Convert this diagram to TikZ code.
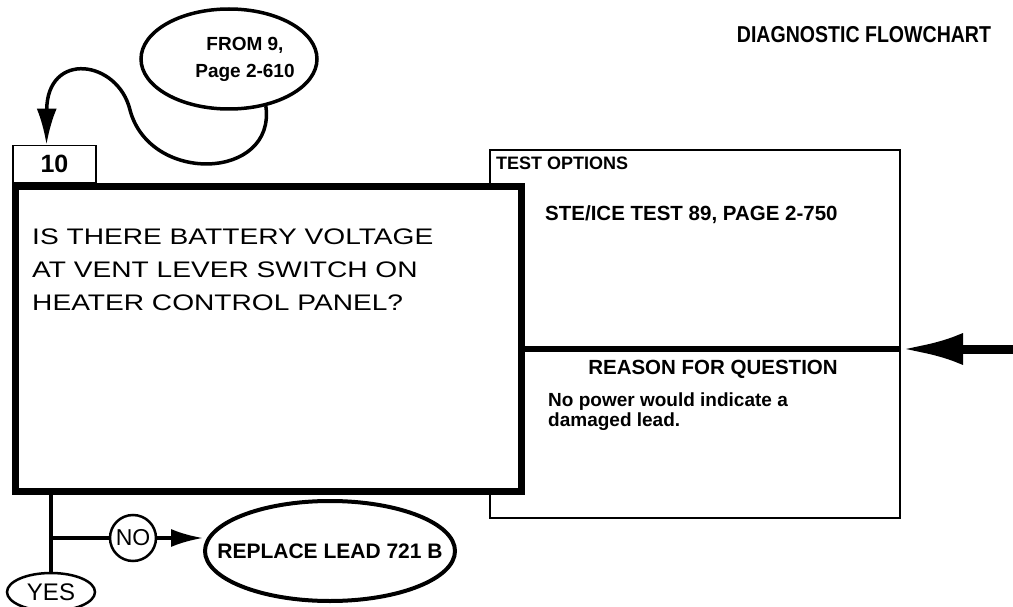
\documentclass[tikz,border=0pt]{standalone}
\usepackage{fontspec}
\setmainfont{Liberation Sans}
\newfontfamily\wideface[FakeStretch=1.25]{Liberation Sans}
\newfontfamily\narrowface[FakeStretch=0.85]{Liberation Sans}
\usepackage{tikz}
\usetikzlibrary{arrows.meta,positioning,shapes.geometric,calc}
\definecolor{Ink}{HTML}{000000}
\tikzset{
  qbox/.style={draw=Ink,line width=6.5pt,fill=white,minimum width=506pt,
              minimum height=305pt,inner sep=0pt},
  numbox/.style={draw=Ink,line width=1.8pt,fill=white,minimum width=83pt,
              minimum height=37pt,inner sep=0pt,font=\bfseries\fontsize{25}{26}\selectfont},
  panel/.style={draw=Ink,line width=2pt,fill=white,minimum width=410pt,
              minimum height=368pt,inner sep=0pt},
  oval/.style={draw=Ink,ellipse,line width=3.5pt,fill=white,inner sep=0pt,align=center},
  tag/.style={draw=Ink,circle,line width=2.5pt,fill=white,minimum size=46pt,
              inner sep=0pt,font=\fontsize{23}{24}\selectfont},
  flow/.style={-{Latex[length=36pt,width=20pt]},line width=3.5pt,draw=Ink},
  smallflow/.style={-{Latex[length=32pt,width=18pt]},line width=3.5pt,draw=Ink},
  bigflow/.style={-{Latex[length=62pt,width=32pt]},line width=9pt,draw=Ink},
  link/.style={line width=4.5pt,draw=Ink},
  divider/.style={line width=6pt,draw=Ink},
  head/.style={font=\bfseries\fontsize{19.4}{22}\selectfont,inner sep=0pt},
  note/.style={font=\bfseries\fontsize{19}{20}\selectfont,align=left,inner sep=0pt}
}

\begin{document}
\begin{tikzpicture}[x=1pt,y=-1pt]
  \useasboundingbox (0,0) rectangle (1013,607);

  \node[head,font=\narrowface\bfseries\fontsize{23}{24}\selectfont] (title) at (864,35) {DIAGNOSTIC FLOWCHART};
  \node[oval,minimum width=176pt,minimum height=100pt] (from9) at (229,59) {};
  \node[head,align=center,font=\bfseries\fontsize{19}{27}\selectfont] (from9text) at (245,59) {FROM 9,\\Page 2-610};

  % test options / reason panel sits behind the question box
  \node[panel] (opts) at (695,334) {};
  \node[numbox] (num) at (54.5,164) {10};
  \node[qbox] (q) at (268.5,339) {};
  \node[anchor=north west,inner sep=0pt,align=left,
        font=\wideface\fontsize{22.5}{33}\selectfont] (qtext) at (32,229)
        {IS THERE BATTERY VOLTAGE\\AT VENT LEVER SWITCH ON\\HEATER CONTROL PANEL?};

  \node[head,font=\bfseries\fontsize{18}{20}\selectfont,anchor=west] (optstitle) at (496,163) {TEST OPTIONS};
  \node[head,font=\bfseries\fontsize{20.5}{22}\selectfont,anchor=west] (optstext) at (545,215) {STE/ICE TEST 89, PAGE 2-750};
  \node[head,font=\bfseries\fontsize{20.5}{22}\selectfont] (reason) at (713,369) {REASON FOR QUESTION};
  \node[note,anchor=north west] (reasontext) at (548,393) {No power would indicate a\\damaged lead.};

  \coordinate (entry) at (1013,349);
  \draw[divider] (entry -| q.east) -- (entry -| opts.east);
  \draw[bigflow] (entry) -- (entry -| opts.east);

  \draw[flow] (from9.-52) .. controls (276,180) and (150,185) .. (130,110)
              .. controls (118,60) and (47,50) .. ([xshift=-8pt]num.north);

  \node[oval,line width=2.5pt,minimum width=88pt,minimum height=38pt,
        font=\fontsize{24}{26}\selectfont] (yes) at (51,592) {YES};
  \node[tag] (no) at (133,538) {NO};
  \node[oval,line width=4pt,minimum width=250pt,minimum height=100pt,
        font=\bfseries\fontsize{21}{24}\selectfont] (replace) at (330,551)
        {\makebox[0pt]{REPLACE LEAD 721 B}};

  \draw[link] (yes.north) -- (yes.north |- q.south);
  \draw[link] (no.west) -- (no.west -| yes.north);
  \draw[smallflow] (no.east) -- (no.east -| replace.west);
\end{tikzpicture}
\end{document}
